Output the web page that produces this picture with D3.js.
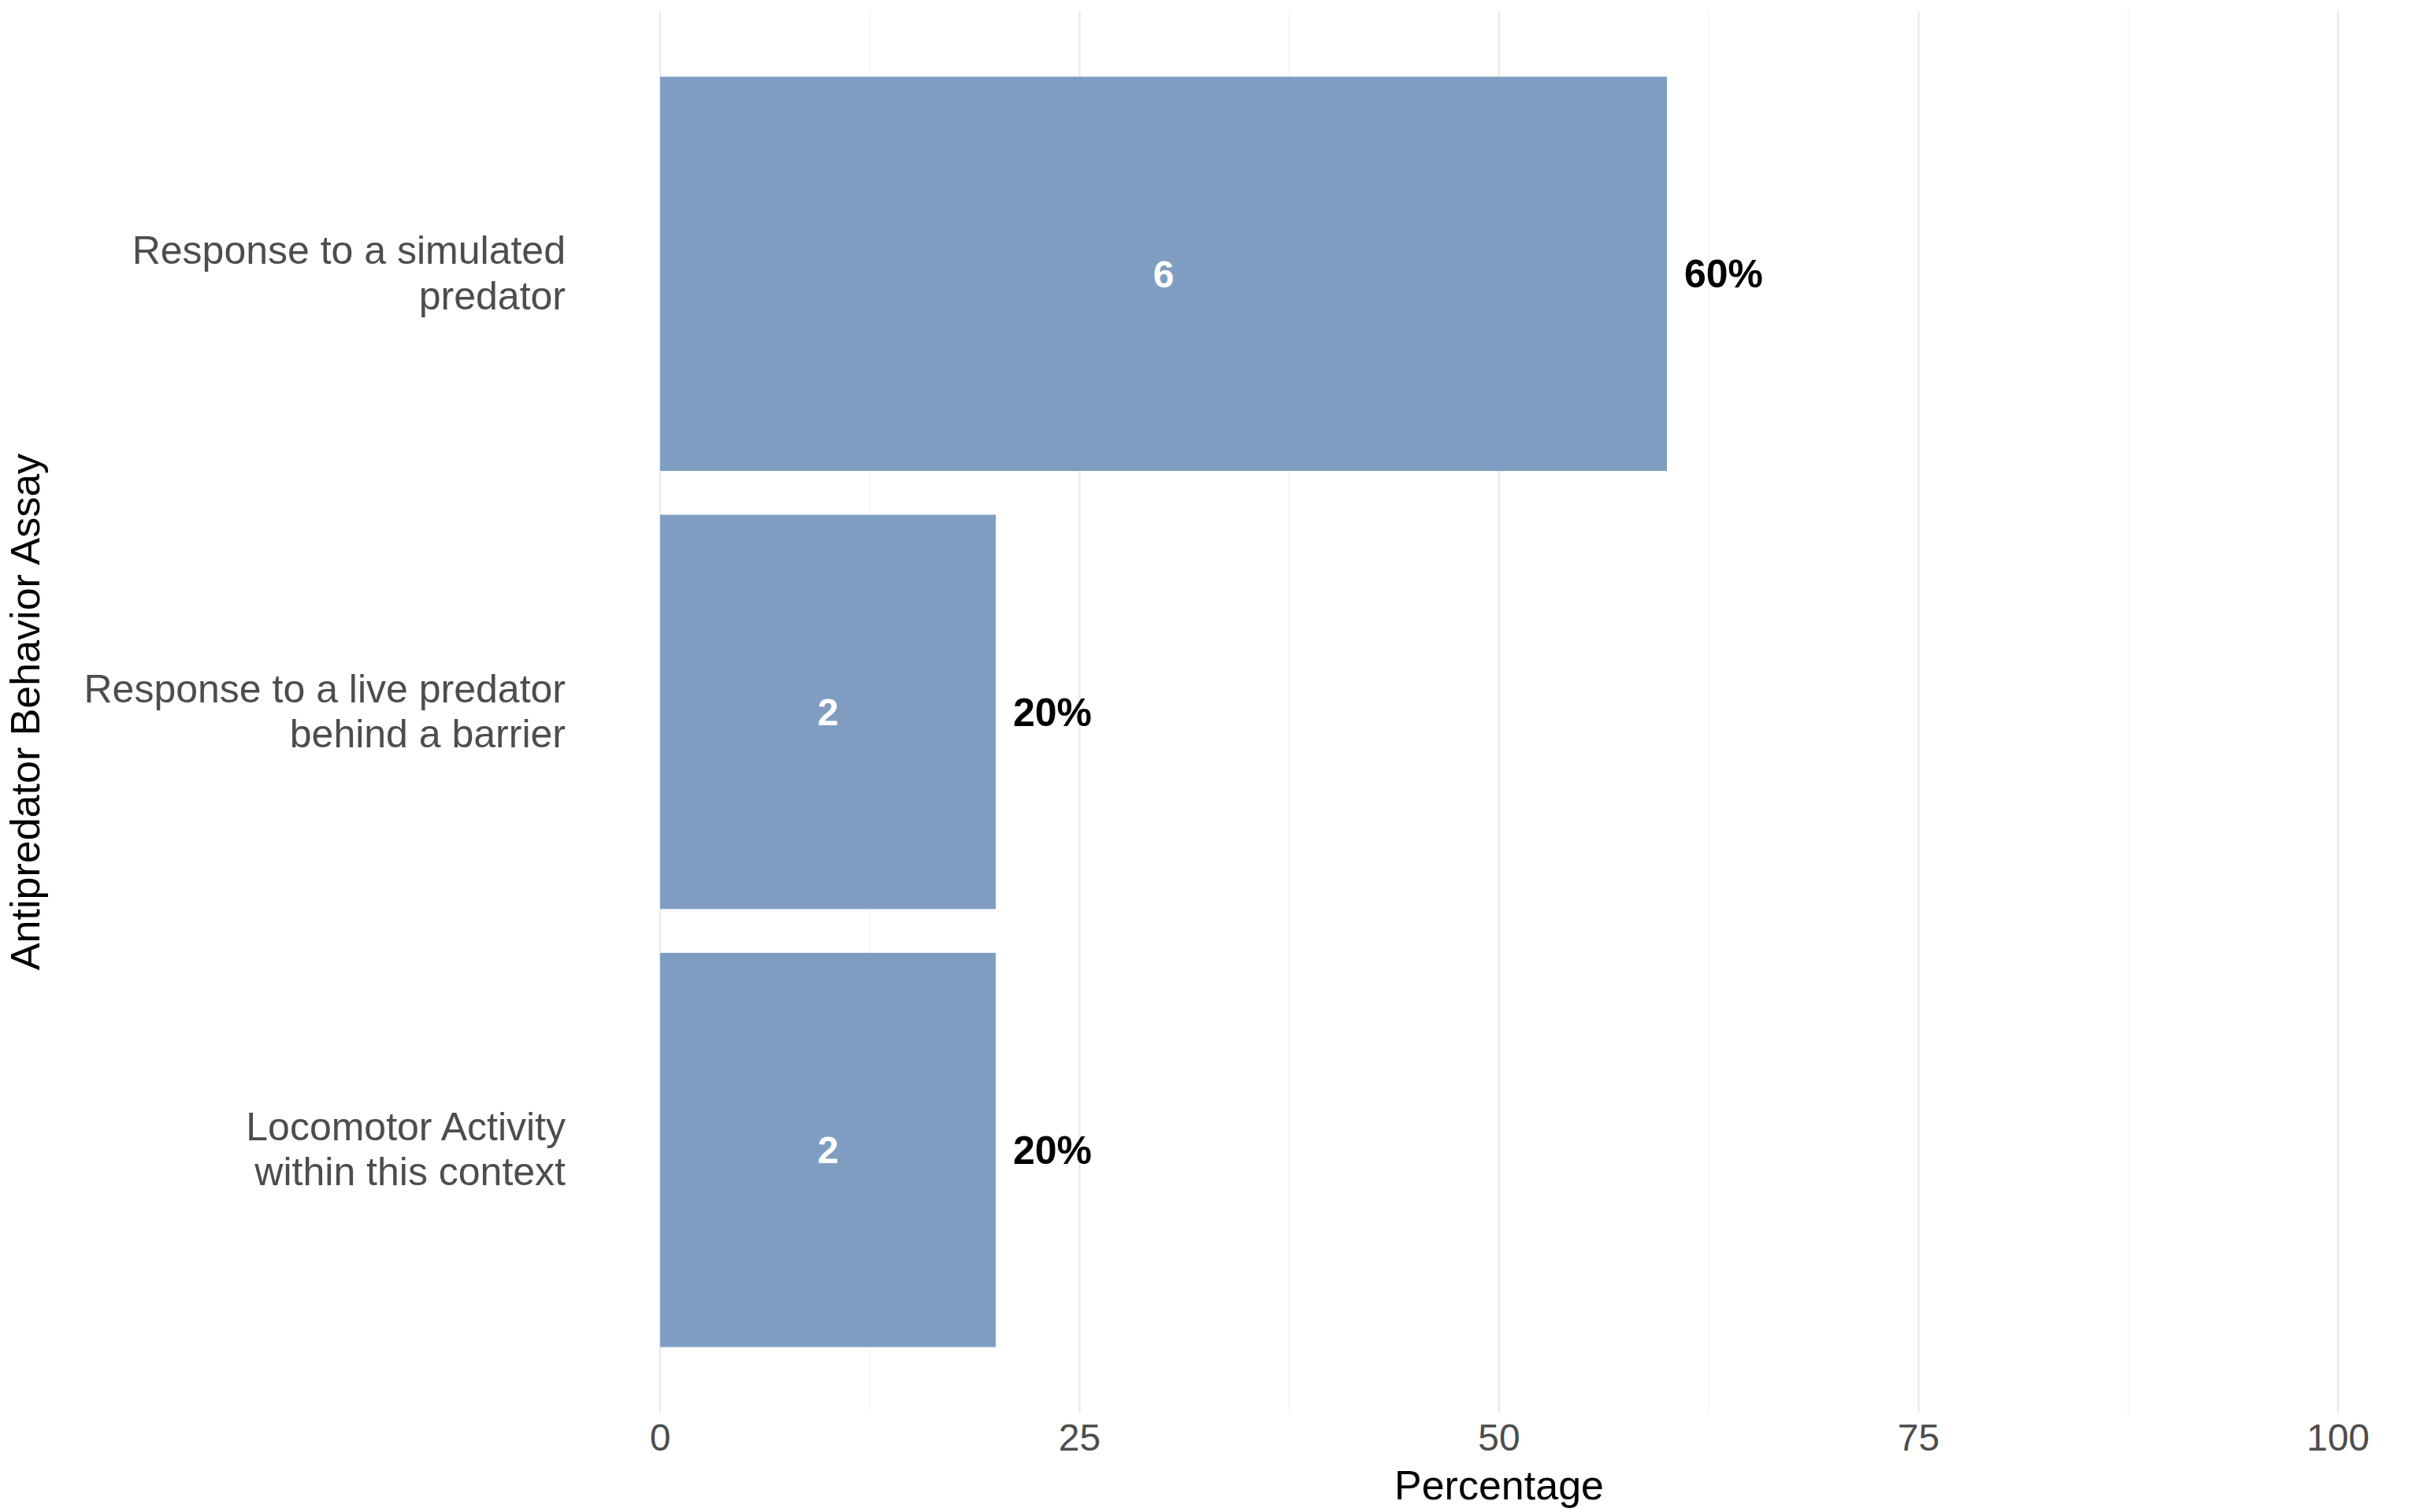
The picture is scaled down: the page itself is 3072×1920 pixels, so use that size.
<!DOCTYPE html>
<html><head><meta charset="utf-8">
<script src="https://cdn.jsdelivr.net/npm/d3@7"></script>
<style>body{margin:0;background:#fff}</style>
</head><body>
<svg id="chart" width="3072" height="1920"></svg>
<script>
// data
var categories = [
  ["Response to a simulated", "predator"],
  ["Response to a live predator", "behind a barrier"],
  ["Locomotor Activity", "within this context"]
];
var counts = [6, 2, 2];
var percents = [60, 20, 20];
var xTicks = [0, 25, 50, 75, 100];

var W = 3072, H = 1920;
var m = {left: 838, right: 80, top: 14, bottom: 126};
var svg = d3.select("#chart");
var font = "Arial, 'Liberation Sans', sans-serif";

var x = d3.scaleLinear().domain([0, 100]).range([m.left, 2968]);
var idx = d3.range(categories.length);
// ggplot discrete expansion of 0.6 each side
var step = (H - m.bottom - m.top) / (categories.length - 1 + 1.2);
var yc = i => m.top + step * (0.6 + i);
var barH = step * 0.9;

// grid
svg.append("g").selectAll("line")
  .data(d3.range(12.5, 100, 25)).enter().append("line")
  .attr("x1", d => x(d)).attr("x2", d => x(d))
  .attr("y1", m.top).attr("y2", H - m.bottom)
  .attr("stroke", "#f4f4f4").attr("stroke-width", 1.5);
svg.append("g").selectAll("line")
  .data(xTicks).enter().append("line")
  .attr("x1", d => x(d)).attr("x2", d => x(d))
  .attr("y1", m.top).attr("y2", H - m.bottom)
  .attr("stroke", "#ebebeb").attr("stroke-width", 2.5);

// bars
svg.append("g").selectAll("rect")
  .data(idx).enter().append("rect")
  .attr("x", x(0)).attr("y", i => yc(i) - barH / 2)
  .attr("width", i => x(percents[i]) - x(0)).attr("height", barH)
  .attr("fill", "#7f9dc1");

// count labels
svg.append("g").selectAll("text")
  .data(idx).enter().append("text")
  .attr("x", i => x(percents[i] / 2)).attr("y", i => yc(i))
  .attr("dy", "0.35em").attr("text-anchor", "middle")
  .attr("font-family", font).attr("font-weight", "bold").attr("font-size", 48)
  .attr("fill", "#fff").text(i => counts[i]);

// percent labels
svg.append("g").selectAll("text")
  .data(idx).enter().append("text")
  .attr("x", i => x(percents[i]) + 22).attr("y", i => yc(i))
  .attr("dy", "0.35em")
  .attr("font-family", font).attr("font-weight", "bold").attr("font-size", 50)
  .attr("fill", "#000").text(i => percents[i] + "%");

// category labels
var cl = svg.append("g").selectAll("text")
  .data(idx).enter().append("text")
  .attr("x", 718).attr("y", i => yc(i))
  .attr("text-anchor", "end")
  .attr("font-family", font).attr("font-size", 50).attr("fill", "#4d4d4d");
cl.append("tspan").attr("x", 718).attr("dy", "-0.25em").text(i => categories[i][0]);
cl.append("tspan").attr("x", 718).attr("dy", "1.15em").text(i => categories[i][1]);

// x ticks
svg.append("g").selectAll("text")
  .data(xTicks).enter().append("text")
  .attr("x", d => x(d)).attr("y", 1842)
  .attr("text-anchor", "middle")
  .attr("font-family", font).attr("font-size", 48).attr("fill", "#4d4d4d")
  .text(d => d);

// axis titles
svg.append("text").attr("x", x(50)).attr("y", 1904)
  .attr("text-anchor", "middle").attr("font-family", font).attr("font-size", 52)
  .attr("fill", "#000").text("Percentage");
svg.append("text").attr("transform", "translate(50," + yc(1) + ") rotate(-90)")
  .attr("text-anchor", "middle").attr("font-family", font).attr("font-size", 52)
  .attr("fill", "#000").text("Antipredator Behavior Assay");
</script>
</body></html>
